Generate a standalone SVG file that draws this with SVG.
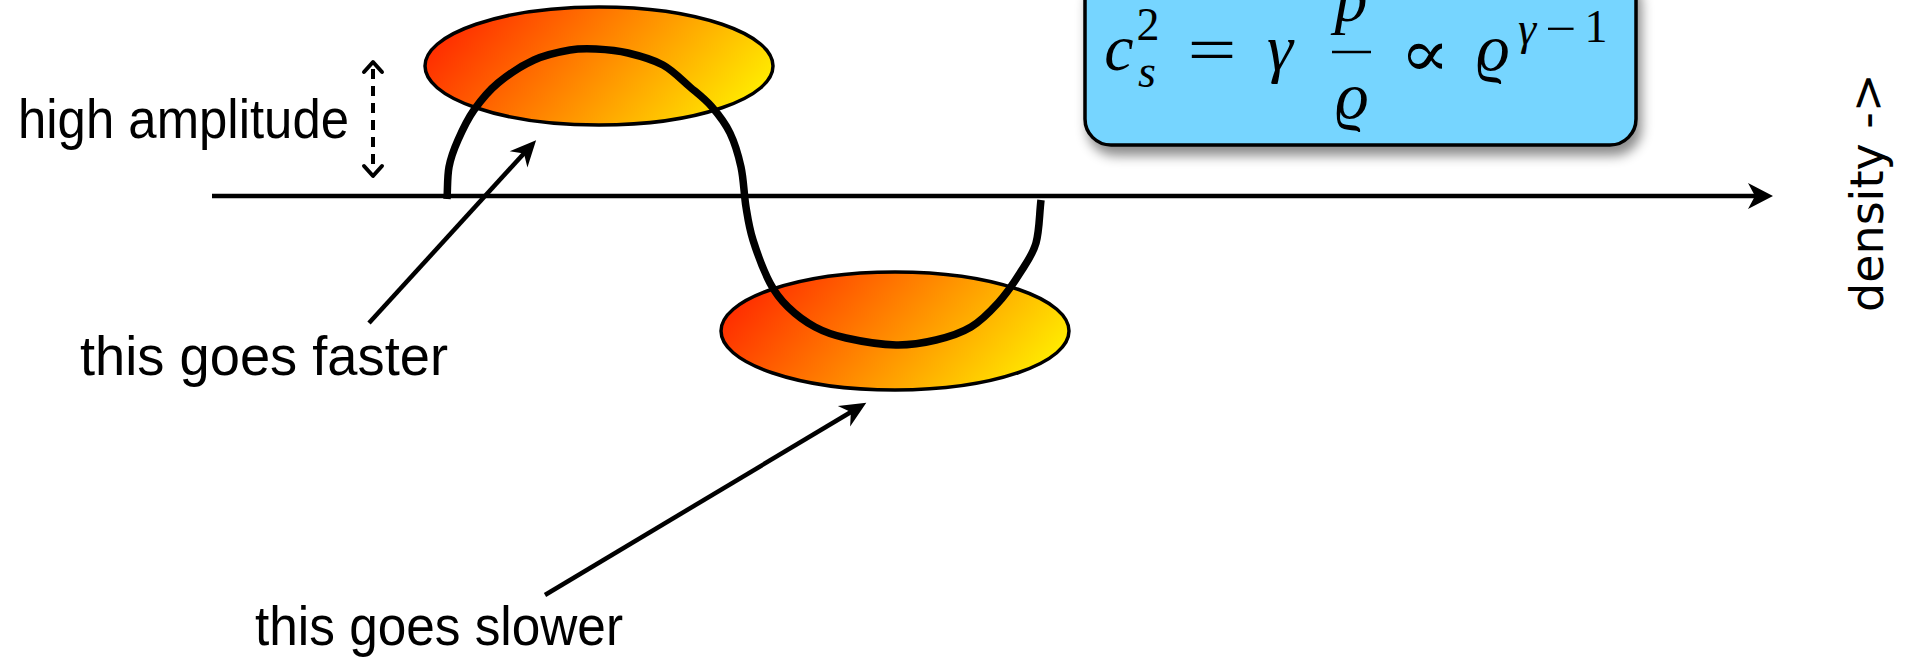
<svg xmlns="http://www.w3.org/2000/svg" width="1910" height="661" viewBox="0 0 1910 661">
  <style>
    .lbl { font-family: "Liberation Sans", "DejaVu Sans", sans-serif; font-size: 55px; fill: #000; }
    .axis-lbl { font-family: "DejaVu Sans", "Liberation Sans", sans-serif; font-size: 46px; fill: #000; }
    .m { font-family: "Liberation Serif", "DejaVu Serif", serif; fill: #000; }
    .it { font-style: italic; }
    .big { font-size: 66px; }
    .sm { font-size: 46px; }
    .blob { fill: url(#warm); stroke: #000; stroke-width: 3.5; }
    .line { stroke: #000; stroke-width: 4.5; fill: none; }
  </style>
  <defs>
    <linearGradient id="warm" x1="0" y1="0.35" x2="1" y2="0.65">
      <stop offset="0" stop-color="#ff2a00"/>
      <stop offset="0.5" stop-color="#ff8c00"/>
      <stop offset="1" stop-color="#ffee00"/>
    </linearGradient>
    <filter id="shadow" x="-10%" y="-20%" width="125%" height="150%">
      <feDropShadow dx="4" dy="9" stdDeviation="6" flood-color="#000" flood-opacity="0.45"/>
    </filter>
    <marker id="head" markerUnits="userSpaceOnUse" markerWidth="40" markerHeight="40" viewBox="-20 -20 40 40" refX="0" refY="0" orient="auto">
      <path d="M12,0 L-14,-12 L-6,0 L-14,12 Z" fill="#000"/>
    </marker>
    <marker id="axhead" markerUnits="userSpaceOnUse" markerWidth="40" markerHeight="40" viewBox="-20 -20 40 40" refX="0" refY="0" orient="auto">
      <path d="M12,0 L-13,-13 L-6,0 L-13,13 Z" fill="#000"/>
    </marker>
  </defs>

  <rect width="1910" height="661" fill="#fff"/>

  <g id="formula-box">
    <rect x="1085" y="-30" width="551" height="175" rx="26" fill="#76d5ff" stroke="#000" stroke-width="3.5" filter="url(#shadow)"/>
    <text class="m it big" x="1119" y="70" text-anchor="middle">c</text>
    <text class="m sm" x="1148" y="40" text-anchor="middle">2</text>
    <text class="m it sm" x="1147" y="87" text-anchor="middle">s</text>
    <text class="m big" x="1212" y="72" text-anchor="middle" textLength="49" lengthAdjust="spacingAndGlyphs">=</text>
    <text class="m it big" x="1280" y="70" text-anchor="middle">γ</text>
    <text class="m it big" x="1351" y="21" text-anchor="middle">p</text>
    <line x1="1332" y1="52" x2="1371" y2="52" stroke="#000" stroke-width="2.5"/>
    <text class="m it big" x="1352" y="118" text-anchor="middle">ϱ</text>
    <text class="m big" x="1425" y="76" text-anchor="middle" textLength="50" lengthAdjust="spacingAndGlyphs">∝</text>
    <text class="m it big" x="1493" y="70" text-anchor="middle">ϱ</text>
    <text class="m it sm" x="1527" y="44" text-anchor="middle">γ</text>
    <text class="m sm" x="1561" y="44" text-anchor="middle" textLength="31" lengthAdjust="spacingAndGlyphs">−</text>
    <text class="m sm" x="1596" y="42" text-anchor="middle">1</text>
  </g>

  <g id="ellipse-top">
    <ellipse class="blob" cx="599" cy="66" rx="174" ry="59"/>
  </g>
  <g id="ellipse-bottom">
    <ellipse class="blob" cx="895" cy="331" rx="174" ry="59"/>
  </g>

  <g id="axis">
    <line class="line" x1="212" y1="196" x2="1761" y2="196" marker-end="url(#axhead)"/>
  </g>

  <g id="wave">
    <path fill="none" stroke="#000" stroke-width="7.5" stroke-linejoin="round" d="M447,199 C447.7,188.3 447.2,176.8 449,167 C450.8,157.2 453.8,149.5 458,140 C462.2,130.5 467.3,119.5 474,110 C480.7,100.5 488,91.3 498,83 C508,74.7 522,65.5 534,60 C546,54.5 559.7,51.8 570,50 C580.3,48.2 586.3,48.5 596,49 C605.7,49.5 616.8,50.3 628,53 C639.2,55.7 652.7,59.3 663,65 C673.3,70.7 681.8,80 690,87 C698.2,94 705.3,99.3 712,107 C718.7,114.7 725.2,123 730,133 C734.8,143 738.3,154.7 741,167 C743.7,179.3 744,194.8 746,207 C748,219.2 749,227.3 753,240 C757,252.7 764.2,271.8 770,283 C775.8,294.2 780.5,299.7 788,307 C795.5,314.3 805.3,321.8 815,327 C824.7,332.2 832.5,335 846,338 C859.5,341 881,344.7 896,345 C911,345.3 923.5,343 936,340 C948.5,337 960.7,333.2 971,327 C981.3,320.8 989.8,312 998,303 C1006.2,294 1013.7,283 1020,273 C1026.3,263 1032.5,255.2 1036,243 C1039.5,230.8 1039.3,214.3 1041,200"/>
  </g>

  <g id="connectors">
    <line class="line" x1="369" y1="323" x2="528" y2="149" marker-end="url(#head)"/>
    <line class="line" x1="545" y1="595" x2="856" y2="409" marker-end="url(#head)"/>
    <g id="amplitude-arrow" fill="none" stroke="#000" stroke-width="4">
      <line x1="373" y1="69" x2="373" y2="169" stroke-dasharray="10 7"/>
      <polyline points="364,72 373,62 382,72" stroke-linecap="round" stroke-linejoin="round"/>
      <polyline points="364,166 373,176 382,166" stroke-linecap="round" stroke-linejoin="round"/>
    </g>
  </g>

  <g id="label-amplitude">
    <text class="lbl" x="18" y="138" textLength="331" lengthAdjust="spacingAndGlyphs">high amplitude</text>
  </g>
  <g id="label-faster">
    <text class="lbl" x="80" y="375" textLength="368" lengthAdjust="spacingAndGlyphs">this goes faster</text>
  </g>
  <g id="label-slower">
    <text class="lbl" x="255" y="645" textLength="368" lengthAdjust="spacingAndGlyphs">this goes slower</text>
  </g>
  <g id="label-density">
    <text class="axis-lbl" transform="translate(1883,312) rotate(-90)" x="0" y="0">density -&gt;</text>
  </g>
</svg>
